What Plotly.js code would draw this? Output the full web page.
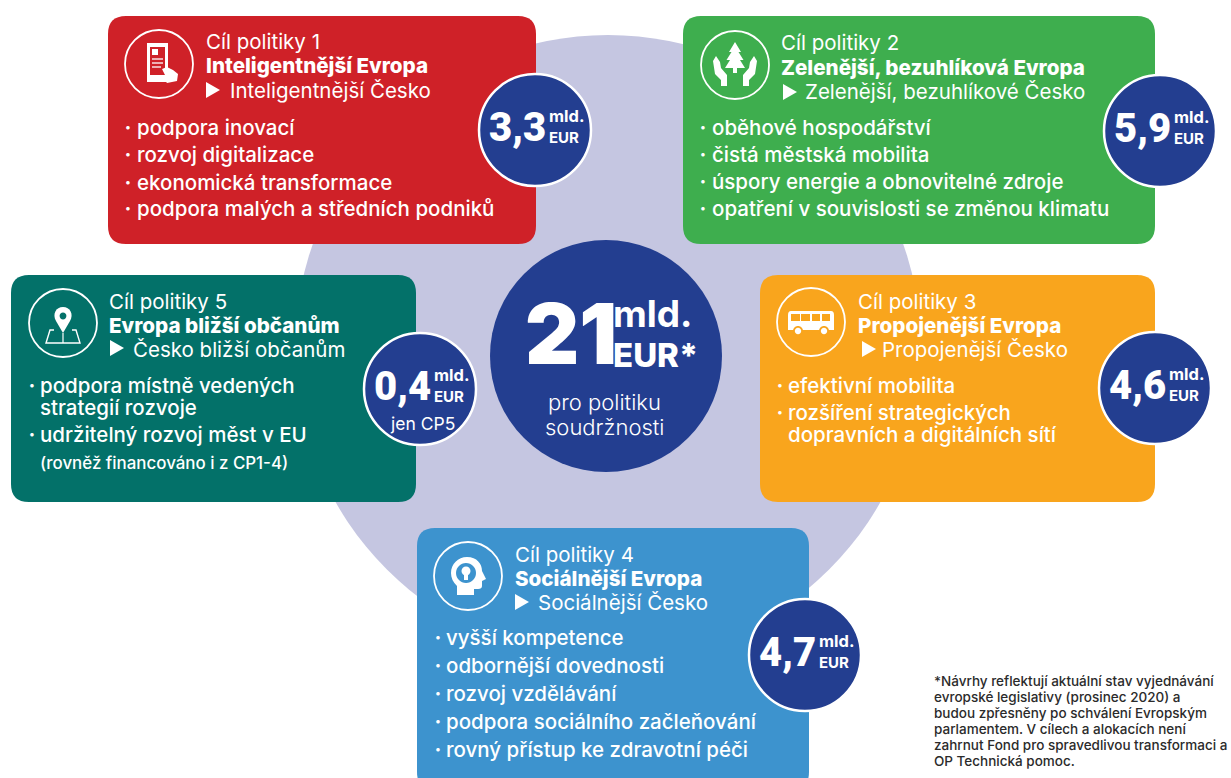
<!DOCTYPE html>
<html><head><meta charset="utf-8">
<script src="https://cdn.plot.ly/plotly-3.0.1.min.js"></script>
<style>html,body{margin:0;padding:0;background:#fff;overflow:hidden}#c{width:1231px;height:778px}</style>
</head><body><div id="c"></div>
<script>
// ---- content ----
const goalLabels = ["Cíl politiky 1","Cíl politiky 2","Cíl politiky 3","Cíl politiky 4","Cíl politiky 5"];
const euNames = ["Inteligentnější Evropa","Zelenější, bezuhlíková Evropa","Propojenější Evropa","Sociálnější Evropa","Evropa bližší občanům"];
const czNames = ["Inteligentnější Česko","Zelenější, bezuhlíkové Česko","Propojenější Česko","Sociálnější Česko","Česko bližší občanům"];
const allocations = [3.3, 5.9, 4.6, 4.7, 0.4];
const totalAllocation = 21;
const bullets1 = ["podpora inovací","rozvoj digitalizace","ekonomická transformace","podpora malých a středních podniků"];
const bullets2 = ["oběhové hospodářství","čistá městská mobilita","úspory energie a obnovitelné zdroje","opatření v souvislosti se změnou klimatu"];
const bullets3 = ["efektivní mobilita","rozšíření strategických","dopravních a digitálních sítí"];
const bullets4 = ["vyšší kompetence","odbornější dovednosti","rozvoj vzdělávání","podpora sociálního začleňování","rovný přístup ke zdravotní péči"];
const bullets5 = ["podpora místně vedených","strategií rozvoje","udržitelný rozvoj měst v EU"];
const note5 = "(rovněž financováno i z CP1-4)";
const only5 = "jen CP5";
const unit1 = "mld.", unit2 = "EUR", totalUnit2 = "EUR*";
const centreLines = ["pro politiku","soudržnosti"];
const footnote = ["*Návrhy reflektují aktuální stav vyjednávání","evropské legislativy (prosinec 2020) a","budou zpřesněny po schválení Evropským","parlamentem. V cílech a alokacích není","zahrnut Fond pro spravedlivou transformaci a","OP Technická pomoc."];

// ---- style & placement ----
const FONT = "Inter, 'Open Sans', sans-serif";
const NUMFONT = "Roboto, Inter, sans-serif";
const NAVY = "#233E90", LAV = "#C5C6E1";
const W = "#ffffff";
const cards = [
 {x0:108,x1:536,y0:16,y1:244,col:"#CF2128",ic:[159,64],tx:205,subx:229,hy:[41,65,90],tri:[206,82],dot:128,bx:136,by:[127,154,182,208],bullets:bullets1,badge:[535,130],noBullet:[]},
 {x0:683,x1:1155,y0:16,y1:244,col:"#3EAE4E",ic:[735,65],tx:780,subx:804,hy:[42,67,91],tri:[783,84],dot:703,bx:711,by:[127,154,181,208],bullets:bullets2,badge:[1160,131],noBullet:[]},
 {x0:760,x1:1155,y0:275,y1:502,col:"#F9A51D",ic:[811,322],tx:857,subx:881,hy:[301,325,349],tri:[862,341],dot:780,bx:787,by:[385,412,434],bullets:bullets3,badge:[1155,388],noBullet:[2]},
 {x0:417,x1:809,y0:528,y1:790,col:"#3D93CE",ic:[468,576],tx:514,subx:537,hy:[554,578,602],tri:[515,594],dot:438,bx:445,by:[637,665,693,721,749],bullets:bullets4,badge:[805,655],noBullet:[]},
 {x0:11,x1:416,y0:275,y1:502,col:"#037169",ic:[63,323],tx:108,subx:132,hy:[301,325,349],tri:[110,340],dot:32,bx:39,by:[385,407,434],bullets:bullets5,badge:[420,389],noBullet:[1]}
];
function rr(c,r){const {x0,x1,y0,y1}=c;return `M${x0+r} ${y0} L${x1-r} ${y0} Q${x1} ${y0} ${x1} ${y0+r} L${x1} ${y1-r} Q${x1} ${y1} ${x1-r} ${y1} L${x0+r} ${y1} Q${x0} ${y1} ${x0} ${y1-r} L${x0} ${y0+r} Q${x0} ${y0} ${x0+r} ${y0} Z`;}
function circ(x,y,r){const k=r*0.5523;return `M${x-r} ${y} C${x-r} ${y-k} ${x-k} ${y-r} ${x} ${y-r} C${x+k} ${y-r} ${x+r} ${y-k} ${x+r} ${y} C${x+r} ${y+k} ${x+k} ${y+r} ${x} ${y+r} C${x-k} ${y+r} ${x-r} ${y+k} ${x-r} ${y} Z`;}
function at(o,p){return p.replace(/(-?[\d.]+) (-?[\d.]+)/g,(m,a,b)=>`${+a+o[0]} ${+b+o[1]}`);}

const shapes=[];
shapes.push({type:"circle",layer:"below",xref:"x",yref:"y",x0:295,x1:921,y0:35,y1:661,fillcolor:LAV,line:{width:0}});
cards.forEach(c=>shapes.push({type:"path",layer:"below",path:rr(c,18),fillcolor:c.col,line:{width:0}}));
function fillP(o,p,col){shapes.push({type:"path",layer:"above",path:at(o,p),fillcolor:col||W,line:{width:0}});}
function lineP(o,p,w,col){shapes.push({type:"path",layer:"above",path:at(o,p),fillcolor:"rgba(0,0,0,0)",line:{color:col||W,width:w||1.5}});}

cards.forEach(c=>{
  lineP(c.ic,circ(0,0,34),1.8);
  fillP(c.tri,"M0 0 L14 8 L0 16 Z");
});
// icon 1: phone + hand
{const o=cards[0].ic,R=cards[0].col;
 fillP(o,"M-12 -21 L9 -21 L9 18 L-12 18 Z");
 fillP(o,"M-9 -17 L6 -17 L6 11 L-9 11 Z",R);
 fillP(o,"M-7 -15 L-1 -15 L-1 -9 L-7 -9 Z");
 lineP(o,"M-7 -5 L4 -5",1.3);lineP(o,"M-7 -1 L4 -1",1.3);lineP(o,"M-7 3 L2 3",1.3);
 fillP(o,"M3 5 L8 3 L14 6 L19 10 L18 17 L8 19 L3 13 L6 11 Z");
}
// icon 2: hands + tree
{const o=cards[1].ic;
 fillP(o,"M0 -23 L6 -13 L3.5 -13 L8.5 -5 L5 -5 L10 3 L2 3 L2 8 L-2 8 L-2 3 L-10 3 L-5 -5 L-8.5 -5 L-3.5 -13 L-6 -13 Z");
 fillP(o,"M-19 -9 L-15 -3 L-14 3 L-8 10 L-8 21 L-14 21 L-14 15 L-20 9 L-22 -4 Z");
 fillP(o,"M19 -9 L15 -3 L14 3 L8 10 L8 21 L14 21 L14 15 L20 9 L22 -4 Z");
}
// icon 3: bus
{const o=cards[2].ic,C=cards[2].col;
 fillP(o,"M-20 -11 L20 -11 Q23 -11 23 -7 L23 8 L-23 8 L-23 -7 Q-23 -11 -20 -11 Z");
 [[-20,-11],[-10,-1],[1,9],[11,19]].forEach(a=>fillP(o,`M${a[0]} -8 L${a[1]} -8 L${a[1]} -1 L${a[0]} -1 Z`,C));
 fillP(o,circ(-13,9,5),C);fillP(o,circ(13,9,5),C);
 fillP(o,circ(-13,9,3.2));fillP(o,circ(13,9,3.2));
}
// icon 4: head + gear
{const o=cards[3].ic,C=cards[3].col;
 fillP(o,"M-1 -19 C9 -19 14 -12 14 -5 L18 3 L14 5 L14 10 Q14 13 10 13 L6 13 L6 19 L-11 19 L-11 10 C-15 6 -17 2 -17 -3 C-17 -12 -10 -19 -1 -19 Z");
 fillP(o,circ(-2,-3,10),C);
 fillP(o,circ(-2,-5,4.5));
 fillP(o,"M-4 -1 L0 -1 L0 4 L-4 4 Z");
}
// icon 5: pin + map
{const o=cards[4].ic,C=cards[4].col;
 fillP(o,"M0 10 L-7 -2 C-11 -9 -7 -16 0 -16 C7 -16 11 -9 7 -2 Z");
 fillP(o,circ(0,-7,3.4),C);
 lineP(o,"M-9 7 L-13 7 L-17 20 L17 20 L13 7 L9 7",1.4);
 lineP(o,"M0 10 L0 20",1.2);
}

const ann=[];
function T(x,y,text,size,weight,anchor,col,fam){ann.push({xref:"x",yref:"y",x,y,text,showarrow:false,xanchor:anchor||"left",yanchor:"middle",align:anchor||"left",borderpad:0,font:{family:fam||FONT,size,weight:weight||400,color:col||W}});}
const fmt=v=>v.toFixed(1).replace(".",",");

cards.forEach((c,i)=>{
  T(c.tx,c.hy[0],goalLabels[i],20.5,400);
  T(c.tx,c.hy[1],euNames[i],20.6,800);
  T(c.subx,c.hy[2],czNames[i],20.5,400);
  c.bullets.forEach((b,j)=>{
    if(!c.noBullet.includes(j)) T(c.dot,c.by[j],"•",11,500,"center");
    T(c.bx,c.by[j],b,20.5,500);
  });
  const [bx,by]=c.badge;
  T(bx-47,by-3,fmt(allocations[i]),40,900,"left",W,NUMFONT);
  T(bx+13,by-14,unit1,16.5,700);
  T(bx+13,by+7,unit2,15,700);
});
T(39,463,note5,16.9,500);
T(cards[4].badge[0]+2,cards[4].badge[1]+34,only5,17.5,400,"center");

T(524,333,String(totalAllocation),84,900);
T(612,313,unit1,37,700);
T(612,355,totalUnit2,33,800);
centreLines.forEach((t,i)=>T(604,402+25*i,t,22,300,"center"));
footnote.forEach((t,i)=>T(933,681+16*i,t,13.5,500,"left","#2b2b2b"));

const bx=cards.map(c=>c.badge[0]), by=cards.map(c=>c.badge[1]);
const data=[
 {type:"scatter",mode:"markers",x:[606],y:[356],hoverinfo:"skip",cliponaxis:false,
  marker:{size:232,color:NAVY,line:{width:0}}},
 {type:"scatter",mode:"markers",x:bx,y:by,customdata:allocations,hoverinfo:"skip",cliponaxis:false,
  marker:{size:112,color:NAVY,line:{color:W,width:2.5}}}
];
const layout={width:1231,height:778,margin:{l:0,r:0,t:0,b:0},paper_bgcolor:W,plot_bgcolor:W,showlegend:false,
 xaxis:{range:[0,1231],visible:false,fixedrange:true},
 yaxis:{range:[778,0],visible:false,fixedrange:true},
 shapes,annotations:ann};
Plotly.newPlot("c",data,layout,{displayModeBar:false,staticPlot:true});
</script></body></html>
